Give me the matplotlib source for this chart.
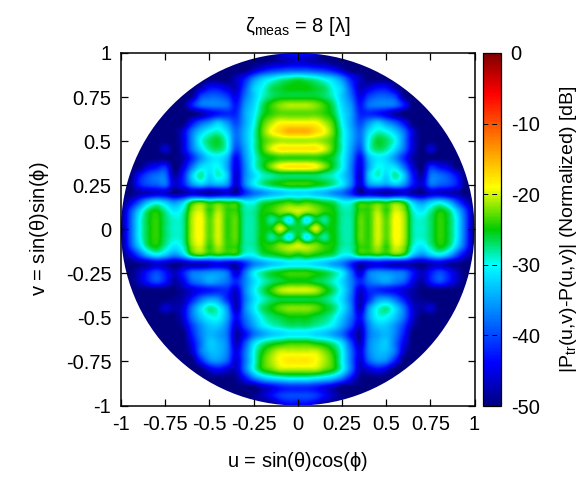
import numpy as np
import matplotlib
matplotlib.use("Agg")
import matplotlib.pyplot as plt
from matplotlib.colors import LinearSegmentedColormap
from matplotlib.patches import Circle

plt.rcParams['font.family'] = ['Liberation Sans', 'DejaVu Sans']
plt.rcParams['mathtext.fontset'] = 'custom'
plt.rcParams['mathtext.rm'] = 'Liberation Sans'
plt.rcParams['mathtext.it'] = 'Liberation Sans'
plt.rcParams['mathtext.default'] = 'regular'
plt.rcParams['axes.unicode_minus'] = False

# dB, u = 0, 0.05, ... (rest of each row is -50), left side mirrors it
v_vals = [1.0, 0.95, 0.9, 0.85, 0.8, 0.75, 0.7, 0.65, 0.6, 0.55, 0.5, 0.45, 0.4, 0.35, 0.3, 0.25, 0.2, 0.15, 0.1, 0.05, 0.0,
          -0.05, -0.1, -0.15, -0.2, -0.25, -0.3, -0.35, -0.4, -0.45, -0.5, -0.55, -0.6, -0.65, -0.7, -0.75, -0.8, -0.85, -0.9, -0.95, -1.0]
rows_top = [
    [-42, -43, -45],
    [-46, -47, -48, -49],
    [-40, -40, -41, -42, -44, -47],
    [-27, -28, -29, -31, -33, -37, -43, -47],
    [-25, -25, -26, -27, -30, -33, -40, -47, -46, -44, -44, -48],
    [-26, -26, -26, -27, -29, -33, -38, -45, -41, -39, -39, -41, -49],
    [-21, -21, -22, -24, -27, -32, -36, -43, -38, -37, -37, -38, -43],
    [-23, -23, -23, -24, -26, -31, -35, -42, -42, -43, -45, -48],
    [-19, -19, -19, -21, -24, -30, -35, -40, -36, -33, -36, -39, -44],
    [-15, -15, -17, -19, -23, -29, -34, -38, -32, -29, -30, -33, -38, -46],
    [-21, -21, -21, -22, -24, -29, -34, -38, -30, -26, -27, -30, -37, -46],
    [-18, -18, -18, -20, -24, -29, -35, -40, -30, -27, -28, -32, -38, -46, -50, -46],
    [-24, -24, -24, -25, -26, -30, -36, -44, -34, -31, -32, -36, -42, -48],
    [-18, -18, -19, -22, -26, -30, -37, -45, -35, -30, -31, -32, -38, -46, -50, -42, -44, -46],
    [-27, -27, -27, -28, -29, -32, -37, -46, -33, -29, -32, -28, -33, -43, -48, -38, -38, -40, -44],
    [-24, -24, -25, -26, -28, -31, -37, -46, -36, -34, -35, -33, -36, -43, -46, -38, -39, -40, -43],
    [-32, -32, -33, -34, -36, -38, -42, -48, -46, -47, -48, -47, -46, -48, -49, -46, -46, -47, -48],
]
rows_mid = [
    [-25, -24, -25, -26, -27, -30, -30, -26, -26, -25, -26, -24, -26, -33, -36, -33, -31, -34, -40, -46],
    [-20, -21, -22, -24, -25, -28, -28, -24, -24, -21, -24, -20, -22, -29, -31, -28, -25, -27, -33, -41],
    [-25, -31, -26, -28, -25, -28, -28, -23, -24, -20, -23, -19, -21, -28, -29, -27, -24, -26, -31, -40],
    [-26, -25, -20, -25, -25, -28, -28, -23, -24, -20, -23, -19, -21, -28, -29, -27, -24, -26, -31, -40],
    [-25, -31, -26, -28, -25, -28, -28, -23, -24, -20, -23, -19, -21, -28, -29, -27, -24, -26, -31, -40],
    [-20, -21, -22, -24, -25, -28, -28, -24, -24, -21, -24, -20, -22, -29, -31, -28, -25, -27, -33, -41],
    [-25, -24, -25, -26, -27, -30, -30, -26, -26, -25, -26, -24, -26, -33, -36, -33, -31, -34, -40, -46],
]
rows_bottom = [
    [-31, -31, -32, -33, -35, -37, -42, -47, -46, -45, -46, -47, -47, -48, -49, -47, -46, -48, -49],
    [-24, -24, -25, -26, -28, -31, -38, -46, -38, -36, -36, -37, -38, -43, -47, -43, -40, -43, -47],
    [-25, -25, -26, -27, -29, -32, -37, -42, -38, -36, -35, -37, -39, -45, -48, -43, -40, -43, -47],
    [-20, -20, -21, -24, -27, -31, -37, -46, -42, -42, -43, -44, -46, -48, -50],
    [-26, -26, -26, -27, -29, -32, -38, -47, -42, -36, -35, -38, -43, -48, -49, -50],
    [-22, -22, -23, -25, -27, -31, -37, -47, -36, -30, -28, -32, -38, -46, -48, -46, -50],
    [-25, -25, -26, -27, -29, -33, -38, -44, -35, -30, -30, -33, -38, -46, -50],
    [-27, -27, -28, -29, -31, -35, -40, -46, -37, -33, -33, -36, -41, -48],
    [-31, -31, -32, -33, -35, -38, -44, -48, -38, -35, -34, -37, -43, -50],
    [-24, -24, -25, -26, -28, -32, -40, -47, -37, -34, -33, -38, -45, -50],
    [-20, -20, -20, -22, -25, -30, -38, -45, -37, -34, -34, -38, -47],
    [-18, -18, -19, -21, -24, -30, -38, -46, -39, -36, -37, -43],
    [-21, -21, -21, -23, -25, -30, -38, -47, -46, -44, -46],
    [-30, -30, -31, -32, -34, -38, -44, -49],
    [-42, -42, -43, -45, -47],
    [-40, -40, -41, -44, -47, -49],
    [-44, -44, -46],
]
uv_ticks = [-1, -0.75, -0.5, -0.25, 0, 0.25, 0.5, 0.75, 1]
uv_labels = ['-1', '-0.75', '-0.5', '-0.25', '0', '0.25', '0.5', '0.75', '1']
db_ticks = [0, -10, -20, -30, -40, -50]


def build_grid(rows):
    # pad each row out to u = 1 and mirror it across u = 0
    half = np.full((len(rows), 21), -50.0)
    for i, row in enumerate(rows):
        half[i, :len(row)] = row
    return np.hstack([half[:, :0:-1], half])


stops = [(0.0, (0, 0, 0.5)), (0.12, (0, 0, 1)), (0.40, (0, 1, 1)), (0.50, (0, 0.8, 0)),
         (0.62, (1, 1, 0)), (0.885, (1, 0, 0)), (1.0, (0.5, 0, 0))]
cmap = LinearSegmentedColormap.from_list("meas", stops)

W, H = 581, 479
fig = plt.figure(figsize=(W / 100, H / 100), dpi=100)
ax = fig.add_axes([121 / W, 1 - 405.5 / H, 353.5 / W, 352.5 / H])

grid = build_grid(rows_top + rows_mid + rows_bottom)
# catrom passes through the table values, agg's bicubic blurs the stripes away
im = ax.imshow(grid, extent=(-1.025, 1.025, v_vals[-1] - 0.025, v_vals[0] + 0.025), cmap=cmap,
               vmin=-50, vmax=0, interpolation='catrom', aspect='auto')
im.set_clip_path(Circle((0, 0), 1, transform=ax.transData))

ax.set_xlim(-1, 1)
ax.set_ylim(-1, 1)
ax.set_xticks(uv_ticks, uv_labels)
ax.set_yticks(uv_ticks, uv_labels)
ax.tick_params(direction='in', top=True, right=True, length=5, width=0.9, labelsize=14.5, pad=7)
for s in ax.spines.values():
    s.set_linewidth(1.1)
ax.set_xlabel(r'u = sin($\theta$)cos($\phi$)', fontsize=14.5)
ax.xaxis.set_label_coords(0.5, -0.125)
ax.set_ylabel(r'v = sin($\theta$)sin($\phi$)', fontsize=14.5)
ax.yaxis.set_label_coords(-0.197, 0.5)
ax.set_title(r'$\zeta_{meas}$ = 8 [$\lambda$]', fontsize=14.5, pad=15)

cax = fig.add_axes([483 / W, 1 - 406 / H, 18 / W, 353 / H])
cb = fig.colorbar(im, cax=cax)
cb.set_ticks(db_ticks)
cb.ax.tick_params(length=0, labelsize=14.5, pad=7)
cb.outline.set_linewidth(0.9)
for t in db_ticks[1:-1]:
    cax.axhline(t, color='k', lw=0.7, ls=(0, (5, 4)))
cb.set_label(r'|P$_{tr}$(u,v)-P(u,v)| (Normalized) [dB]', fontsize=14)
cax.yaxis.set_label_coords(4.15, 0.5)

plt.savefig("out.png", dpi=100)
